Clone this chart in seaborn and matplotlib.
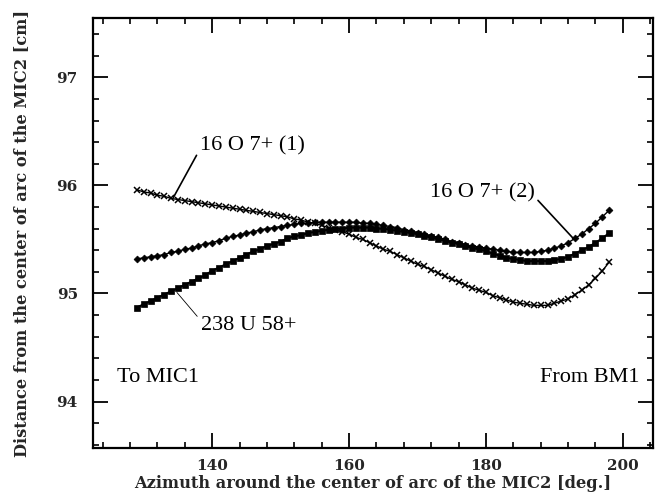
"""Beam position along the MIC2 arc for three ion species."""
import matplotlib
matplotlib.use("Agg")
import matplotlib.pyplot as plt
import pandas as pd
import seaborn as sns

azimuth = [129, 130, 131, 132, 133, 134, 135, 136, 137, 138,
           139, 140, 141, 142, 143, 144, 145, 146, 147, 148,
           149, 150, 151, 152, 153, 154, 155, 156, 157, 158,
           159, 160, 161, 162, 163, 164, 165, 166, 167, 168,
           169, 170, 171, 172, 173, 174, 175, 176, 177, 178,
           179, 180, 181, 182, 183, 184, 185, 186, 187, 188,
           189, 190, 191, 192, 193, 194, 195, 196, 197, 198]

o16_1 = [95.96, 95.94, 95.93, 95.91, 95.90, 95.88, 95.87, 95.86, 95.85, 95.84,
         95.83, 95.82, 95.81, 95.80, 95.79, 95.78, 95.77, 95.76, 95.75, 95.74,
         95.73, 95.72, 95.71, 95.69, 95.68, 95.66, 95.65, 95.63, 95.61, 95.59,
         95.57, 95.55, 95.52, 95.50, 95.47, 95.44, 95.41, 95.39, 95.36, 95.33,
         95.30, 95.27, 95.25, 95.22, 95.19, 95.16, 95.13, 95.11, 95.08, 95.05,
         95.03, 95.01, 94.98, 94.96, 94.94, 94.92, 94.91, 94.90, 94.89, 94.89,
         94.89, 94.91, 94.93, 94.95, 94.99, 95.03, 95.08, 95.14, 95.21, 95.29]

o16_2 = [95.32, 95.33, 95.34, 95.35, 95.36, 95.38, 95.39, 95.41, 95.42, 95.44,
         95.46, 95.47, 95.49, 95.51, 95.53, 95.54, 95.56, 95.57, 95.59, 95.60,
         95.61, 95.62, 95.63, 95.64, 95.65, 95.65, 95.66, 95.66, 95.66, 95.66,
         95.66, 95.66, 95.66, 95.65, 95.65, 95.64, 95.63, 95.62, 95.61, 95.59,
         95.58, 95.56, 95.55, 95.53, 95.52, 95.50, 95.48, 95.47, 95.45, 95.44,
         95.43, 95.42, 95.41, 95.40, 95.39, 95.38, 95.38, 95.38, 95.38, 95.39,
         95.40, 95.42, 95.44, 95.47, 95.51, 95.55, 95.60, 95.65, 95.71, 95.77]

u238 = [94.87, 94.90, 94.93, 94.96, 94.99, 95.02, 95.05, 95.08, 95.11, 95.14,
        95.17, 95.21, 95.24, 95.27, 95.30, 95.33, 95.36, 95.39, 95.41, 95.44,
        95.46, 95.48, 95.51, 95.53, 95.54, 95.56, 95.57, 95.58, 95.59, 95.60,
        95.60, 95.61, 95.61, 95.61, 95.61, 95.60, 95.60, 95.59, 95.58, 95.57,
        95.56, 95.55, 95.53, 95.52, 95.50, 95.49, 95.47, 95.46, 95.44, 95.42,
        95.41, 95.39, 95.37, 95.35, 95.33, 95.32, 95.31, 95.30, 95.30, 95.30,
        95.30, 95.31, 95.32, 95.34, 95.37, 95.40, 95.43, 95.47, 95.51, 95.56]

sns.set_style("ticks")
plt.rcParams["font.family"] = ["DejaVu Serif"]

df = pd.DataFrame({"azimuth": azimuth, "o16_1": o16_1, "o16_2": o16_2, "u238": u238})

fig = plt.figure(figsize=(6.57, 4.96), dpi=100)
ax = fig.add_axes([0.1416, 0.0968, 0.8523, 0.8669])

sns.lineplot(data=df, x="azimuth", y="o16_1", ax=ax, color="black", lw=1.0,
             marker="x", markersize=5, markeredgewidth=1.1, markeredgecolor="black")
sns.lineplot(data=df, x="azimuth", y="o16_2", ax=ax, color="black", lw=1.0,
             marker="D", markersize=3.5, markeredgewidth=0.5, markeredgecolor="black")
sns.lineplot(data=df, x="azimuth", y="u238", ax=ax, color="black", lw=1.5,
             marker="s", markersize=5, markeredgewidth=0.5, markeredgecolor="black")

ax.set_xlim(122.6, 204.4)
ax.set_ylim(93.57, 97.55)
ax.set_xticks([140, 160, 180, 200])
ax.set_xticks(range(124, 205, 4), minor=True)
ax.set_yticks([94, 95, 96, 97])
ax.set_yticks([93.6, 93.8, 94.2, 94.4, 94.6, 94.8, 95.2, 95.4, 95.6, 95.8,
               96.2, 96.4, 96.6, 96.8, 97.2, 97.4], minor=True)
ax.tick_params(which="both", direction="in", top=True, right=True, color="black")
ax.tick_params(which="major", length=11, width=1.3)
ax.tick_params(which="minor", length=4.5, width=1.2)
ax.tick_params(axis="x", which="major", pad=8)
ax.tick_params(axis="y", which="major", pad=11)
for lab in ax.get_xticklabels() + ax.get_yticklabels():
    lab.set_fontweight("bold")
    lab.set_fontsize(11)
for sp in ax.spines.values():
    sp.set_visible(True)
    sp.set_linewidth(1.6)
    sp.set_color("black")

ax.set_xlabel("Azimuth around the center of arc of the MIC2 [deg.]",
              fontsize=11.7, fontweight="bold")
ax.set_ylabel("Distance from the center of arc of the MIC2 [cm]",
              fontsize=11.7, fontweight="bold")
ax.xaxis.set_label_coords(0.5, -0.062)
ax.yaxis.set_label_coords(-0.112, 0.5)

note = dict(family="Liberation Serif", fontsize=16, color="black")
ax.annotate("16 O 7+ (1)", xy=(134.35, 95.89), xytext=(138.2, 96.37),
            ha="left", va="center",
            arrowprops=dict(arrowstyle="-", lw=1.2, color="black",
                            shrinkA=0, shrinkB=0, relpos=(0.0, 0.3)), **note)
ax.annotate("16 O 7+ (2)", xy=(192.75, 95.51), xytext=(171.8, 95.93),
            ha="left", va="center",
            arrowprops=dict(arrowstyle="-", lw=1.2, color="black",
                            shrinkA=0, shrinkB=0, relpos=(1.0, 0.3)), **note)
ax.annotate("238 U 58+", xy=(134.85, 95.01), xytext=(138.3, 94.70),
            ha="left", va="center",
            arrowprops=dict(arrowstyle="-", lw=0.6, color="black",
                            shrinkA=0, shrinkB=0, relpos=(0.0, 0.8)), **note)
ax.text(126.1, 94.22, "To MIC1", ha="left", va="center", **note)
ax.text(202.5, 94.22, "From BM1", ha="right", va="center", **note)

fig.savefig("out.png", dpi=100)
